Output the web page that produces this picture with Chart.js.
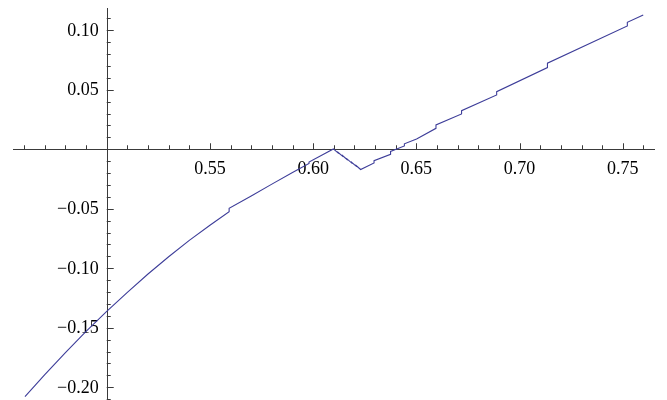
<!DOCTYPE html>
<html>
<head>
<meta charset="utf-8">
<script src="https://cdn.jsdelivr.net/npm/chart.js@4/dist/chart.umd.min.js"></script>
<style>
    html, body { margin: 0; padding: 0; background: #fff; }
    #wrap { width: 667px; height: 400px; }
</style>
</head>
<body>
<div id="wrap"><canvas id="plot"></canvas></div>
<script>
// curve samples (x, y)
const xValues = [
    0.4604, 0.47, 0.48, 0.49, 0.50, 0.51, 0.52, 0.53, 0.54, 0.55, 0.5593,
    0.5593, 0.57, 0.58, 0.59, 0.598,
    0.598, 0.6098,
    0.6120, 0.6120, 0.6142, 0.6142, 0.6164, 0.6164, 0.6186, 0.6186, 0.6208, 0.6208, 0.6230,
    0.6295, 0.6295, 0.6375, 0.6375, 0.6442, 0.6442, 0.6501,
    0.6595, 0.6595, 0.6719, 0.6719, 0.6889, 0.6889, 0.7135, 0.7135, 0.7522, 0.7522, 0.7599
];
const yValues = [
    -0.2079, -0.1894, -0.1709, -0.1531, -0.1362, -0.1202, -0.1048, -0.0903, -0.0766, -0.0638, -0.0525,
    -0.0496, -0.0393, -0.0293, -0.0196, -0.0119,
    -0.0107, 0.0003,
    -0.0030, -0.0025, -0.0058, -0.0053, -0.0086, -0.0081, -0.0114, -0.0109, -0.0142, -0.0137, -0.0170,
    -0.0115, -0.0096, -0.0042, -0.0018, 0.0028, 0.0046, 0.0087,
    0.0176, 0.0204, 0.0297, 0.0324, 0.0456, 0.0484, 0.0686, 0.0723, 0.1036, 0.1067, 0.1129
];

// axis ticks and their labels
const xMajorTicks = [0.55, 0.60, 0.65, 0.70, 0.75];
const xTickLabels = ['0.55', '0.60', '0.65', '0.70', '0.75'];
const yMajorTicks = [0.10, 0.05, -0.05, -0.10, -0.15, -0.20];
const yTickLabels = ['0.10', '0.05', '\u22120.05', '\u22120.10', '\u22120.15', '\u22120.20'];
const xMinorTicks = [0.46, 0.47, 0.48, 0.49, 0.51, 0.52, 0.53, 0.54, 0.56, 0.57, 0.58, 0.59,
    0.61, 0.62, 0.63, 0.64, 0.66, 0.67, 0.68, 0.69, 0.71, 0.72, 0.73, 0.74, 0.76];
const yMinorTicks = [0.11, 0.09, 0.08, 0.07, 0.06, 0.04, 0.03, 0.02, 0.01,
    -0.01, -0.02, -0.03, -0.04, -0.06, -0.07, -0.08, -0.09, -0.11, -0.12, -0.13, -0.14,
    -0.16, -0.17, -0.18, -0.19, -0.21];

const points = xValues.map((x, i) => ({ x: x, y: yValues[i] }));

// mathematica style axes crossing at (0.5, 0)
const crossAxes = {
    id: 'crossAxes',
    beforeDatasetsDraw(chart) {
        const ctx = chart.ctx;
        const xs = chart.scales.x;
        const ys = chart.scales.y;
        const ax = xs.getPixelForValue(0.5);
        const ay = ys.getPixelForValue(0);

        ctx.save();
        ctx.strokeStyle = '#3a3a3a';
        ctx.lineWidth = 1;
        ctx.beginPath();
        ctx.moveTo(xs.left, Math.round(ay) + 0.5);
        ctx.lineTo(xs.right, Math.round(ay) + 0.5);
        ctx.moveTo(Math.round(ax) + 0.5, ys.top);
        ctx.lineTo(Math.round(ax) + 0.5, ys.bottom);

        // x ticks go up from the axis
        xMajorTicks.forEach(v => {
            const px = Math.round(xs.getPixelForValue(v)) + 0.5;
            ctx.moveTo(px, ay);
            ctx.lineTo(px, ay - 6);
        });
        xMinorTicks.forEach(v => {
            const px = Math.round(xs.getPixelForValue(v)) + 0.5;
            ctx.moveTo(px, ay);
            ctx.lineTo(px, ay - 4);
        });
        // y ticks go right from the axis
        yMajorTicks.forEach(v => {
            const py = Math.round(ys.getPixelForValue(v)) + 0.5;
            ctx.moveTo(ax, py);
            ctx.lineTo(ax + 7, py);
        });
        yMinorTicks.forEach(v => {
            const py = Math.round(ys.getPixelForValue(v)) + 0.5;
            ctx.moveTo(ax, py);
            ctx.lineTo(ax + 4, py);
        });
        ctx.stroke();

        ctx.fillStyle = '#000';
        ctx.font = '18px "Liberation Serif"';
        ctx.textAlign = 'center';
        ctx.textBaseline = 'alphabetic';
        xMajorTicks.forEach((v, i) => {
            ctx.fillText(xTickLabels[i], xs.getPixelForValue(v), ay + 25);
        });
        ctx.textAlign = 'right';
        ctx.textBaseline = 'middle';
        yMajorTicks.forEach((v, i) => {
            ctx.fillText(yTickLabels[i], ax - 8, ys.getPixelForValue(v) + 1);
        });
        ctx.restore();
    }
};

new Chart(document.getElementById('plot'), {
    type: 'line',
    data: {
        datasets: [{
            data: points,
            borderColor: '#3d3d99',
            borderWidth: 1.1,
            pointRadius: 0,
            tension: 0,
            fill: false
        }]
    },
    options: {
        responsive: true,
        maintainAspectRatio: false,
        animation: false,
        layout: { padding: { left: 13, right: 12, top: 8, bottom: 0 } },
        plugins: {
            legend: { display: false },
            tooltip: { enabled: false }
        },
        scales: {
            x: { type: 'linear', min: 0.4546, max: 0.7656, display: false },
            y: { type: 'linear', min: -0.2107, max: 0.1187, display: false }
        }
    },
    plugins: [crossAxes]
});
</script>
</body>
</html>
